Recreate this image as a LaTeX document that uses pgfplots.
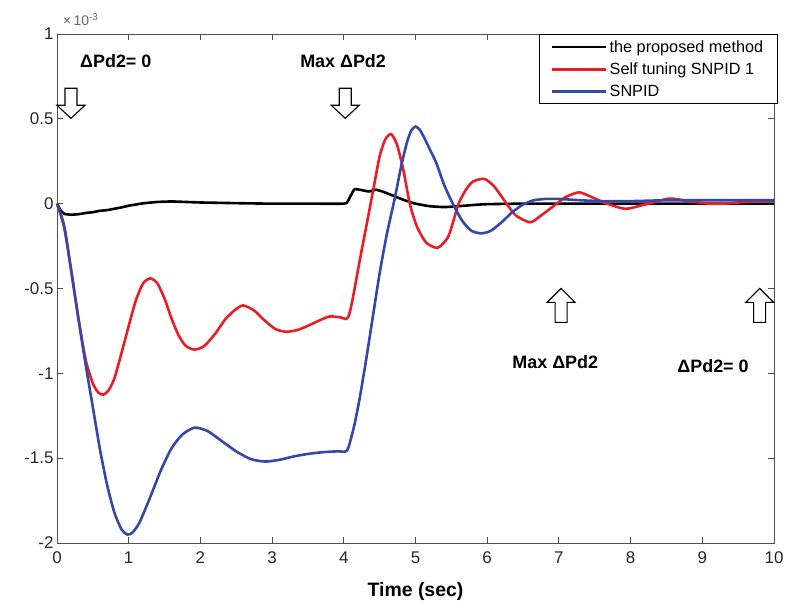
\documentclass[border=0pt]{standalone}
\usepackage{fontspec}
\setmainfont{Liberation Sans}
\usepackage{pgfplots}
\pgfplotsset{compat=1.18}
\definecolor{mred}{RGB}{237,28,36}
\definecolor{mblue}{RGB}{52,72,170}
\definecolor{axgray}{RGB}{80,80,80}
\begin{document}
\begin{tikzpicture}
\begin{axis}[
  scale only axis, width=717bp, height=509bp,
  xmin=0, xmax=10, ymin=-2, ymax=1,
  xtick={0,1,...,10},
  ytick={-2,-1.5,-1,-0.5,0,0.5,1},
  yticklabels={-2,-1.5,-1,-0.5,0,0.5,1},
  tick align=inside, major tick length=6bp,
  axis line style={axgray, line width=0.9bp},
  every tick/.style={axgray, line width=0.9bp},
  tick label style={font=\fontsize{17}{20}\selectfont, text=black!85},
  xticklabel style={yshift=-5bp},
  /pgf/number format/assume math mode=true,
  clip=false,
  legend style={at={(rel axis cs:1.005,1)}, anchor=north east, draw=black, line width=0.9bp,
    font=\fontsize{16.3}{18}\selectfont, row sep=5bp, inner xsep=12bp, inner ysep=4bp,
    cells={anchor=west}},
  legend image code/.code={\draw[#1] (0bp,0bp) -- (54bp,0bp);},
]
\addplot[black, line width=2.6bp, smooth, tension=0.3] coordinates {
(0,0) (0.05,-0.04) (0.1,-0.06) (0.2,-0.065) (0.3,-0.062) (0.4,-0.055) (0.5,-0.05)
(0.6,-0.042) (0.7,-0.038) (0.8,-0.03) (0.9,-0.022) (1.0,-0.012) (1.1,-0.005) (1.2,0.002)
(1.4,0.01) (1.6,0.013) (1.8,0.01) (2.0,0.007) (2.5,0.003) (3.0,0.0) (3.5,0.0) (4.0,0.0)
(4.05,0.01) (4.1,0.05) (4.15,0.085) (4.25,0.08) (4.35,0.072) (4.45,0.082) (4.55,0.07)
(4.7,0.045) (4.85,0.02) (5.0,0.0) (5.2,-0.015) (5.4,-0.02) (5.6,-0.015) (5.8,-0.008)
(6.0,-0.003) (6.5,0.0) (7,0.0) (8,0.0) (9,0.0) (10,0.0)
};
\addlegendentry{the proposed method}
\addplot[mred, line width=2.6bp, smooth, tension=0.4] coordinates {
(0,0) (0.1,-0.14) (0.2,-0.4) (0.3,-0.68) (0.4,-0.92) (0.5,-1.06) (0.58,-1.115) (0.65,-1.125)
(0.72,-1.1) (0.8,-1.03) (0.9,-0.88) (1.0,-0.72) (1.1,-0.57) (1.2,-0.47) (1.3,-0.44)
(1.4,-0.47) (1.5,-0.56) (1.6,-0.68) (1.7,-0.78) (1.8,-0.84) (1.92,-0.86) (2.05,-0.84)
(2.2,-0.77) (2.35,-0.68) (2.5,-0.62) (2.6,-0.6) (2.75,-0.63) (2.9,-0.69) (3.05,-0.74)
(3.2,-0.755) (3.35,-0.745) (3.5,-0.72) (3.65,-0.69) (3.8,-0.665) (3.95,-0.67) (4.03,-0.68)
(4.07,-0.66) (4.12,-0.57) (4.22,-0.34) (4.32,-0.12) (4.41,0.08) (4.5,0.28) (4.58,0.38)
(4.66,0.41) (4.74,0.35) (4.83,0.2) (4.92,0.0) (5.02,-0.135) (5.15,-0.23) (5.31,-0.26)
(5.45,-0.2) (5.53,-0.1) (5.6,0.0) (5.7,0.08) (5.8,0.13) (5.96,0.146) (6.1,0.1) (6.27,0.0)
(6.4,-0.07) (6.6,-0.11) (6.75,-0.07) (6.97,0.0) (7.1,0.04) (7.28,0.067) (7.45,0.04)
(7.67,0.0) (7.93,-0.03) (8.2,-0.005) (8.54,0.03) (8.8,0.015) (9.1,0.0) (9.3,0.0) (9.6,0.01)
(10,0.015)
};
\addlegendentry{Self tuning SNPID 1}
\addplot[mblue, line width=2.6bp, smooth, tension=0.4] coordinates {
(0,0) (0.1,-0.13) (0.2,-0.4) (0.3,-0.68) (0.4,-0.95) (0.5,-1.2) (0.6,-1.45) (0.7,-1.66)
(0.8,-1.82) (0.9,-1.92) (0.98,-1.95) (1.05,-1.94) (1.15,-1.88) (1.3,-1.73) (1.45,-1.57)
(1.6,-1.44) (1.75,-1.36) (1.92,-1.32) (2.1,-1.34) (2.3,-1.4) (2.5,-1.46) (2.7,-1.505)
(2.9,-1.52) (3.1,-1.51) (3.3,-1.49) (3.5,-1.475) (3.7,-1.465) (3.9,-1.46) (4.03,-1.46)
(4.07,-1.43) (4.15,-1.3) (4.22,-1.15) (4.3,-0.95) (4.4,-0.68) (4.5,-0.41) (4.6,-0.18)
(4.71,0.03) (4.8,0.22) (4.88,0.36) (4.94,0.43) (5.0,0.455) (5.06,0.435) (5.12,0.39)
(5.2,0.32) (5.29,0.24) (5.4,0.11) (5.52,0.0) (5.65,-0.1) (5.78,-0.16) (5.92,-0.175)
(6.05,-0.16) (6.2,-0.11) (6.35,-0.05) (6.5,-0.005) (6.65,0.02) (6.82,0.028) (7.0,0.028)
(7.3,0.02) (7.6,0.015) (8,0.015) (8.5,0.02) (9,0.02) (10,0.02)
};
\addlegendentry{SNPID}
\node[font=\fontsize{18}{20}\selectfont\bfseries] at (axis cs:0.82,0.84) {ΔPd2= 0};
\node[font=\fontsize{18}{20}\selectfont\bfseries] at (axis cs:3.99,0.84) {Max ΔPd2};
\node[font=\fontsize{18}{20}\selectfont\bfseries] at (axis cs:6.95,-0.935) {Max ΔPd2};
\node[font=\fontsize{18}{20}\selectfont\bfseries] at (axis cs:9.15,-0.96) {ΔPd2= 0};
\coordinate (A1) at (axis cs:0.195,0.68);
\coordinate (A2) at (axis cs:4.02,0.68);
\coordinate (A3) at (axis cs:7.03,-0.70);
\coordinate (A4) at (axis cs:9.80,-0.70);
\coordinate (SW) at (rel axis cs:0,0);
\coordinate (NE) at (rel axis cs:1,1);
\coordinate (NW) at (rel axis cs:0,1);
\coordinate (S) at (rel axis cs:0.5,0);
\end{axis}
\foreach \p in {A1,A2}{
  \draw[black, line width=1.1bp, fill=white] ([xshift=-6bp]\p) -- ++(12bp,0bp) -- ++(0bp,-17bp) -- ++(8bp,0bp) -- ++(-14bp,-13bp) -- ++(-14bp,13bp) -- ++(8bp,0bp) -- cycle;
}
\foreach \p in {A3,A4}{
  \draw[black, line width=1.1bp, fill=white] ([xshift=-6bp]\p) -- ++(12bp,0bp) -- ++(0bp,20bp) -- ++(8bp,0bp) -- ++(-14bp,14bp) -- ++(-14bp,-14bp) -- ++(8bp,0bp) -- cycle;
}
\node[anchor=base west, text=black!60, font=\fontsize{14}{16}\selectfont, inner sep=0pt] at ([shift={(6bp,8bp)}]NW) {×\,10\textsuperscript{-3}};
\node[anchor=base, font=\fontsize{19.5}{22}\selectfont\bfseries, inner sep=0pt] at ([yshift=-53bp]S) {Time (sec)};
\pgfresetboundingbox
\path ([shift={(-57bp,-65bp)}]SW) rectangle ([shift={(12bp,34bp)}]NE);
\end{tikzpicture}
\end{document}
